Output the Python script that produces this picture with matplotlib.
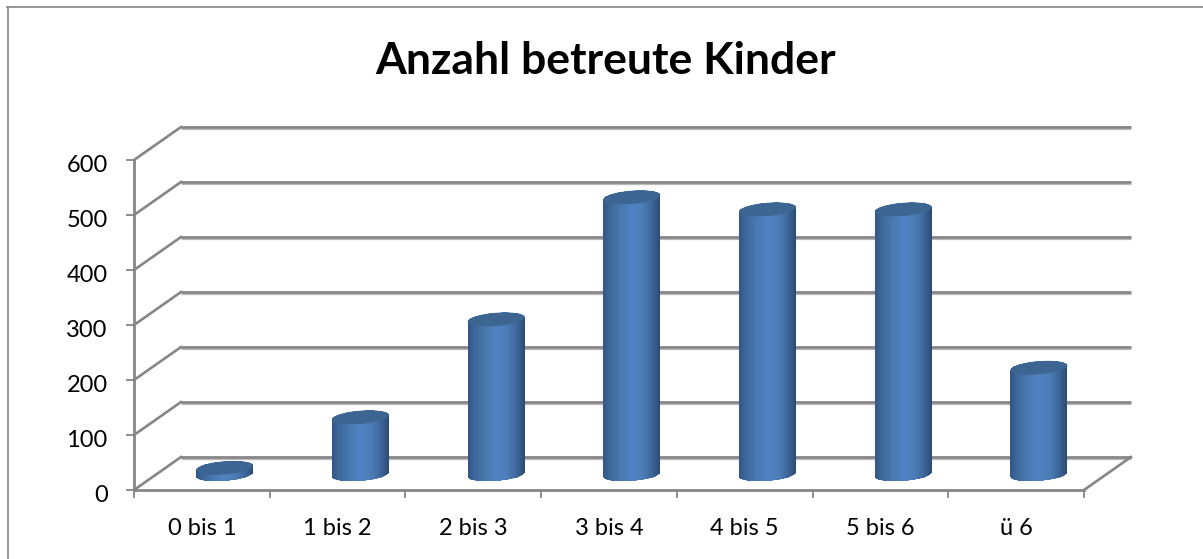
import numpy as np
import matplotlib
matplotlib.use('Agg')
import matplotlib.pyplot as plt
from matplotlib.colors import LinearSegmentedColormap
from matplotlib.lines import Line2D
from matplotlib.patches import PathPatch
from matplotlib.path import Path
from matplotlib.transforms import ScaledTranslation

categories = ['0 bis 1', '1 bis 2', '2 bis 3', '3 bis 4', '4 bis 5', '5 bis 6', 'ü 6']
values = [12, 104, 282, 504, 482, 482, 194]
y_ticks = [0, 100, 200, 300, 400, 500, 600]

W, H = 1203, 559
grey = '#868686'
grey_light = '#b8b8b8'
top_color = '#3d6592'

plt.rcParams['font.family'] = ['Lato', 'DejaVu Sans']

fig = plt.figure(figsize=(W / 100, H / 100), dpi=100)
ax = fig.add_axes([134 / W, 1 - 490 / H, 950 / W, 330 / H])
ax.set_xlim(0, 7)
ax.set_ylim(0, 600)

# px to data units
px_x = 7 / 950
px_y = 600 / 330
depth_x = 47 * px_x
depth_y = 33 * px_y

# side wall, back wall and floor lines
for v in y_ticks:
    y = v + depth_y
    ax.plot([depth_x, 7 + depth_x], [y - 2 * px_y, y - 2 * px_y], color=grey_light, lw=0.9,
            clip_on=False, zorder=1, solid_capstyle='butt')
    ax.plot([depth_x, 7 + depth_x], [y, y], color=grey, lw=2.0,
            clip_on=False, zorder=1, solid_capstyle='butt')
    ax.plot([0, depth_x], [v, y], color=grey, lw=1.9, clip_on=False, zorder=1)
ax.plot([7, 7 + depth_x], [0, depth_y], color=grey, lw=1.9, clip_on=False, zorder=1)

cmap = LinearSegmentedColormap.from_list('cyl', [
    (0.0, '#315687'), (0.1, '#3c6698'), (0.3, '#4878b0'), (0.5, '#5183c3'),
    (0.7, '#4b7cb6'), (0.88, '#3c6496'), (1.0, '#2d4c74')])

a = 28.5 * px_x   # half width
b = 6.6 * px_y    # half height of the ellipse
tilt = 2.2 * px_y


def ellipse(cx, cy, t):
    return np.column_stack([cx + a * np.cos(t), cy + b * np.sin(t) + tilt * np.cos(t)])


for i, v in enumerate(values):
    cx = i + 0.5 + depth_x / 2 - 0.7 * px_x
    base = depth_y / 2 - px_y
    top = base + v
    low = ellipse(cx, base, np.linspace(np.pi, 2 * np.pi, 50))
    high = ellipse(cx, top, np.linspace(0, np.pi, 50))
    outline = np.vstack([low, high, low[:1]])
    side = PathPatch(Path(outline), fc='none', ec='none', clip_on=False, zorder=2)
    ax.add_patch(side)
    xs = np.linspace(cx - a, cx + a, 58)
    ys = np.array([base - 2 * b, top + 2 * b])
    mesh = ax.pcolormesh(xs, ys, np.linspace(0, 1, 57)[None, :], cmap=cmap, vmin=0, vmax=1,
                         zorder=3, shading='flat')
    mesh.set_clip_path(side)
    cap = ellipse(cx, top, np.linspace(0, 2 * np.pi, 100))
    ax.add_patch(PathPatch(Path(cap), fc=top_color, ec='none', clip_on=False, zorder=4))

ax.set_xlim(0, 7)
ax.set_ylim(0, 600)
ax.patch.set_visible(False)
for s in ['top', 'right']:
    ax.spines[s].set_visible(False)
for s in ['left', 'bottom']:
    ax.spines[s].set_color(grey)
    ax.spines[s].set_linewidth(2.0)
    ax.spines[s].set_zorder(5)

ax.set_yticks(y_ticks)
ax.set_xticks(range(8))
ax.set_xticklabels([])
ax.set_xticks(np.arange(7) + 0.5, categories, minor=True)
ax.tick_params(axis='y', length=6, width=1.3, color=grey, labelsize=17, pad=13, labelcolor='black')
ax.tick_params(axis='x', which='major', length=5.5, width=1.3, color=grey)
ax.tick_params(axis='x', which='minor', length=0, labelsize=17, pad=20, labelcolor='black')

# labels sit a bit lower than the ticks
shift = ScaledTranslation(0, -3.5 / 100, fig.dpi_scale_trans)
for lab in ax.get_yticklabels():
    lab.set_transform(lab.get_transform() + shift)

fig.text(606 / W, 1 - 61 / H, 'Anzahl betreute Kinder', ha='center', va='center',
         fontsize=32, fontweight='bold', color='black')

# chart frame, open on the right and at the bottom
fig.add_artist(Line2D([7.5 / W, 7.5 / W], [0, 1 - 7 / H], color=grey, lw=1.2))
fig.add_artist(Line2D([7 / W, 1], [1 - 7 / H, 1 - 7 / H], color=grey, lw=1.2))

fig.savefig('out.png', dpi=100)
